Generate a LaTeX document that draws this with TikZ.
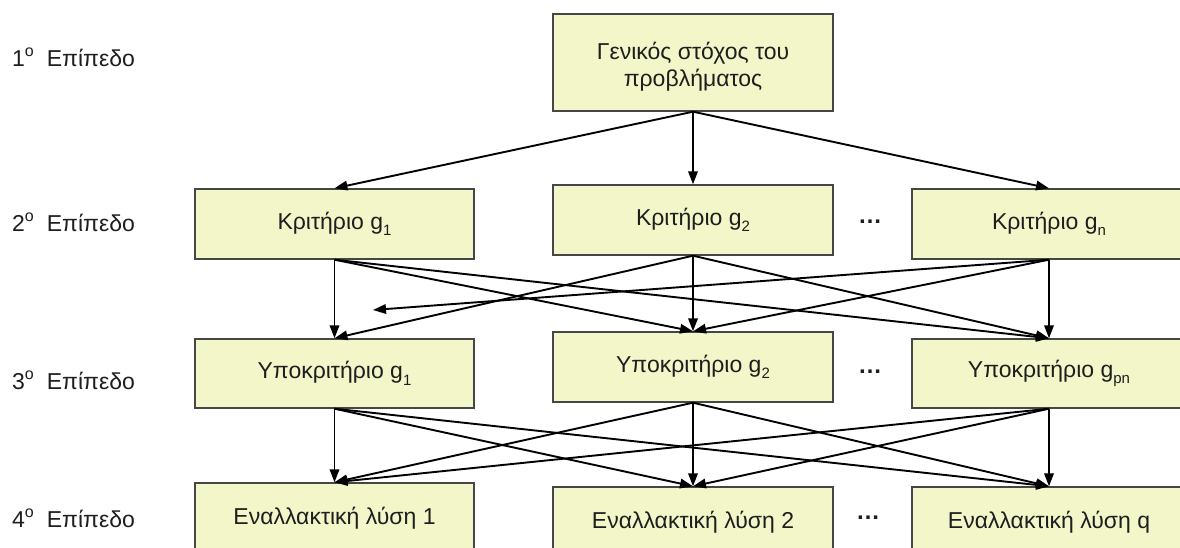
\documentclass[tikz,border=0pt]{standalone}
\usepackage{fontspec}
\setmainfont{Liberation Sans}
\usetikzlibrary{arrows.meta}
\definecolor{boxfill}{RGB}{242,246,200}
\definecolor{boxline}{RGB}{70,70,70}
\definecolor{txt}{RGB}{30,30,30}
\newcommand{\sbs}[1]{\raisebox{-0.28em}{\fontsize{15}{15}\selectfont #1}}
\newcommand{\ordo}{\raisebox{0.45em}{\fontsize{16}{16}\selectfont o}}
\begin{document}
\begin{tikzpicture}[x=1pt,y=-1pt,
  box/.style={draw=boxline, line width=1.4pt, fill=boxfill, text=txt,
    font=\fontsize{23}{27}\selectfont, inner sep=0pt, align=center},
  lvl/.style={anchor=west, text=txt, font=\fontsize{23}{27}\selectfont, inner sep=0pt},
  arr/.style={-{Triangle[length=13pt,width=9.5pt]}, line width=1.9pt, black},
  dotsnode/.style={text=txt, font=\fontsize{24}{28}\selectfont\bfseries, inner sep=0pt}]
\clip (0,0) rectangle (1180,548);
\fill[white] (0,0) rectangle (1180,548);
% level labels
\node[lvl] (l1) at (12,57) {1\ordo\hspace{13pt}Επίπεδο};
\node[lvl] (l2) at (12,222) {2\ordo\hspace{13pt}Επίπεδο};
\node[lvl] (l3) at (12,380) {3\ordo\hspace{13pt}Επίπεδο};
\node[lvl] (l4) at (12,518) {4\ordo\hspace{13pt}Επίπεδο};
% level 1
\node[box, minimum width=280pt, minimum height=97pt] (top) at (693,62.5)
  {\raisebox{0pt}[\dimexpr\height+8pt\relax]{Γενικός στόχος του}\\προβλήματος};
% level 2
\node[box, minimum width=279pt, minimum height=70pt] (a1) at (334.5,224) {Κριτήριο g\sbs{1}};
\node[box, minimum width=280pt, minimum height=70pt] (a2) at (693,220) {Κριτήριο g\sbs{2}};
\node[box, minimum width=274pt, minimum height=70pt] (a3) at (1049,224) {Κριτήριο g\sbs{n}};
% level 3
\node[box, minimum width=279pt, minimum height=69pt] (b1) at (334.5,373.5) {Υποκριτήριο g\sbs{1}};
\node[box, minimum width=280pt, minimum height=70pt] (b2) at (693,367) {Υποκριτήριο g\sbs{2}};
\node[box, minimum width=274pt, minimum height=69pt] (b3) at (1049,373.5) {Υποκριτήριο g\sbs{pn}};
% level 4
\node[box, minimum width=279pt, minimum height=70pt] (c1) at (334.5,518) {Εναλλακτική λύση 1};
\node[box, minimum width=280pt, minimum height=70pt] (c2) at (693,522) {Εναλλακτική λύση 2};
\node[box, minimum width=274pt, minimum height=70pt] (c3) at (1049,522) {Εναλλακτική λύση q};
% dots
\node[dotsnode] (d2) at (870,222) {…};
\node[dotsnode] (d3) at (870,372) {…};
\node[dotsnode] (d4) at (868,518) {…};
% arrows level 1 -> 2
\foreach \t in {a1,a2,a3} \draw[arr] (top.south) -- (\t.north);
% arrows level 2 -> 3
\draw[arr] (a1.south) -- (b1.north);
\draw[arr] (a1.south) -- (b2.north);
\draw[arr] (a1.south) -- (b3.north);
\draw[arr] (a2.south) -- (b1.north);
\draw[arr] (a2.south) -- (b2.north);
\draw[arr] (a2.south) -- (b3.north);
\coordinate (stop) at (373,310);
\draw[arr] (a3.south) -- (stop);
\draw[arr] (a3.south) -- (b2.north);
\draw[arr] (a3.south) -- (b3.north);
% arrows level 3 -> 4
\foreach \s in {b1,b2,b3}
  \foreach \t in {c1,c2,c3}
    \draw[arr] (\s.south) -- (\t.north);
\end{tikzpicture}
\end{document}
